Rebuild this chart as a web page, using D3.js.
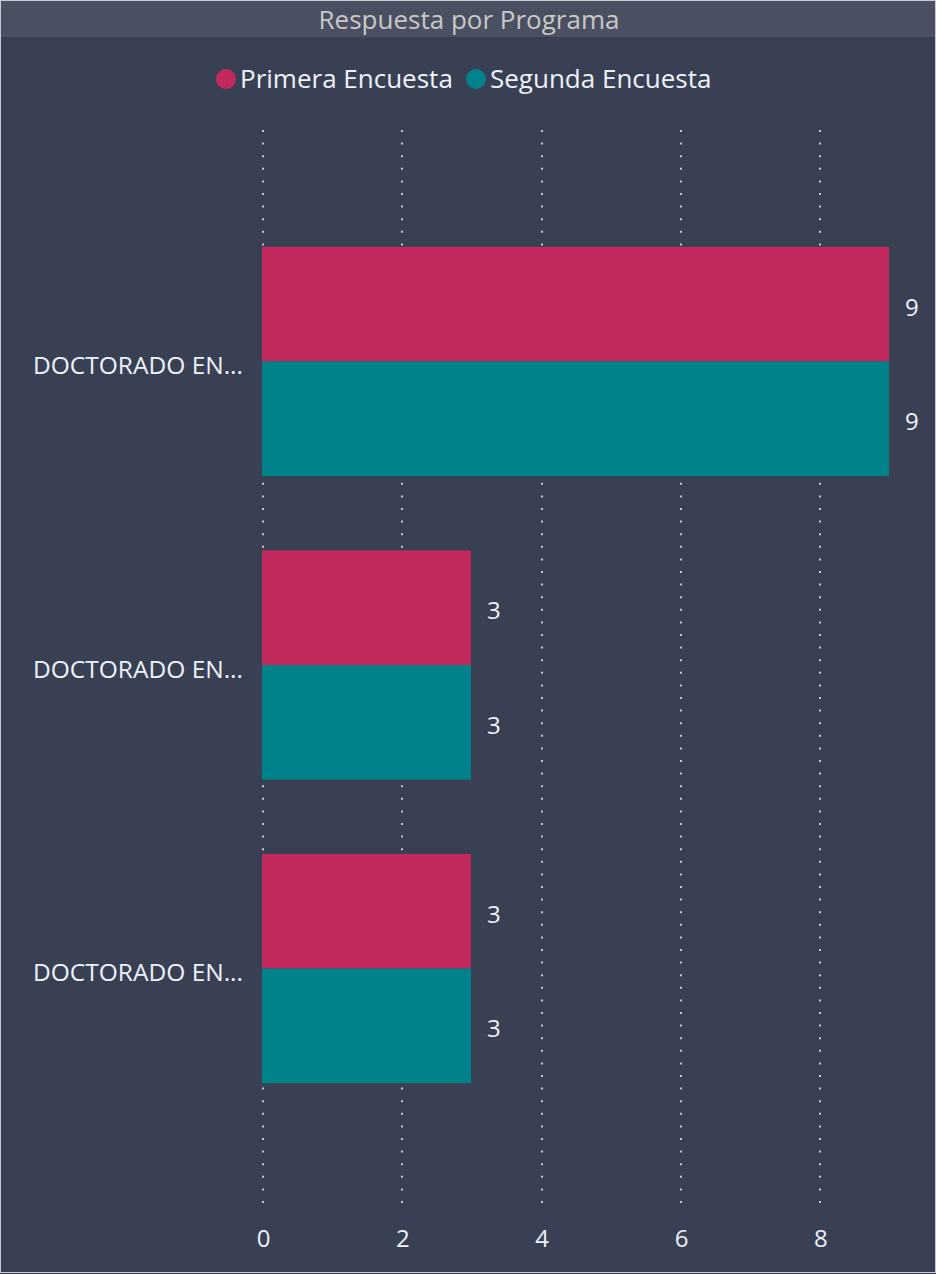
<!DOCTYPE html>
<html>
<head>
<meta charset="utf-8">
<script src="https://cdn.jsdelivr.net/npm/d3@7"></script>
<style>
  body { margin: 0; background: #394053; }
  text { font-family: "Open Sans", "Noto Sans", sans-serif; }
</style>
</head>
<body>
<div id="chart"></div>
<script>
// Data
const programs = ["DOCTORADO EN...(1)", "DOCTORADO EN...(2)", "DOCTORADO EN...(3)"];
const programLabels = ["DOCTORADO EN...", "DOCTORADO EN...", "DOCTORADO EN..."];
const series = ["Primera Encuesta", "Segunda Encuesta"];
const primera = [9, 3, 3];
const segunda = [9, 3, 3];
const xTicks = [0, 2, 4, 6, 8];
const colors = ["#c2295c", "#00828a"];

const width = 936, height = 1274;
const fontCss = "'Open Sans', 'Noto Sans', sans-serif";

const svg = d3.select("#chart").append("svg")
    .attr("width", width)
    .attr("height", height);

// background and frame
svg.append("rect")
    .attr("width", width).attr("height", height)
    .attr("fill", "#394053");
svg.append("rect")
    .attr("width", width).attr("height", 37)
    .attr("fill", "#4a5061");
svg.append("rect")
    .attr("x", 0.5).attr("y", 0.5)
    .attr("width", width - 1).attr("height", height - 2)
    .attr("fill", "none")
    .attr("stroke", "#c5cad3")
    .attr("stroke-width", 1);

// title
svg.append("text")
    .attr("x", 469)
    .attr("y", 29)
    .attr("text-anchor", "middle")
    .attr("fill", "#c8c8c8")
    .style("font-size", "26px")
    .text("Respuesta por Programa");

// legend
const legendItems = [
  { name: series[0], cx: 226, tx: 240 },
  { name: series[1], cx: 476, tx: 490 }
];
legendItems.forEach((d, i) => {
  svg.append("circle")
      .attr("cx", d.cx).attr("cy", 79).attr("r", 10)
      .attr("fill", colors[i]);
  svg.append("text")
      .attr("x", d.tx).attr("y", 88)
      .attr("fill", "#eef2fa")
      .style("font-size", "26px")
      .text(d.name);
});

// scales
const x = d3.scaleLinear()
    .domain([0, 9])
    .range([262, 889]);

const y0 = d3.scaleBand()
    .domain(programs)
    .range([130, 1200])
    .paddingInner(0.245)
    .paddingOuter(0.385);

const y1 = d3.scaleBand()
    .domain(series)
    .range([0, y0.bandwidth()]);

// dotted gridlines
svg.append("g")
    .selectAll("line")
    .data(xTicks)
    .enter().append("line")
    .attr("x1", d => Math.round(x(d)) + 1).attr("x2", d => Math.round(x(d)) + 1)
    .attr("y1", 130).attr("y2", 1212)
    .attr("stroke", "#c8c8c8")
    .attr("stroke-width", 2)
    .attr("stroke-dasharray", "2,10.6");

// x axis tick labels
const xAxis = svg.append("g")
    .attr("transform", "translate(1,1230)")
    .call(d3.axisBottom(x).tickValues(xTicks).tickSize(0).tickPadding(0));
xAxis.select(".domain").remove();
xAxis.selectAll("text")
    .attr("fill", "#eef2fa")
    .style("font-size", "24px")
    .style("font-family", fontCss);

// y axis category labels
const yAxis = svg.append("g")
    .attr("transform", "translate(243,5)")
    .call(d3.axisLeft(y0).tickSize(0).tickPadding(0).tickFormat((d, i) => programLabels[i]));
yAxis.select(".domain").remove();
yAxis.selectAll("text")
    .attr("fill", "#eef2fa")
    .style("font-size", "24.5px")
    .style("font-family", fontCss);

// bars
const rows = programs.map((p, i) => ({ program: p, values: [primera[i], segunda[i]] }));

const groups = svg.append("g")
    .selectAll("g")
    .data(rows)
    .enter().append("g")
    .attr("transform", d => `translate(0,${y0(d.program)})`);

groups.selectAll("rect")
    .data(d => d.values.map((v, j) => ({ key: series[j], value: v, j: j })))
    .enter().append("rect")
    .attr("x", x(0))
    .attr("y", d => y1(d.key))
    .attr("width", d => x(d.value) - x(0))
    .attr("height", y1.bandwidth())
    .attr("fill", d => colors[d.j]);

groups.selectAll("text.value")
    .data(d => d.values.map((v, j) => ({ key: series[j], value: v })))
    .enter().append("text")
    .attr("class", "value")
    .attr("x", d => x(d.value) + 16)
    .attr("y", d => y1(d.key) + y1.bandwidth() / 2 + 3)
    .attr("dy", "0.35em")
    .attr("fill", "#eef2fa")
    .style("font-size", "24px")
    .text(d => d.value);
</script>
</body>
</html>
